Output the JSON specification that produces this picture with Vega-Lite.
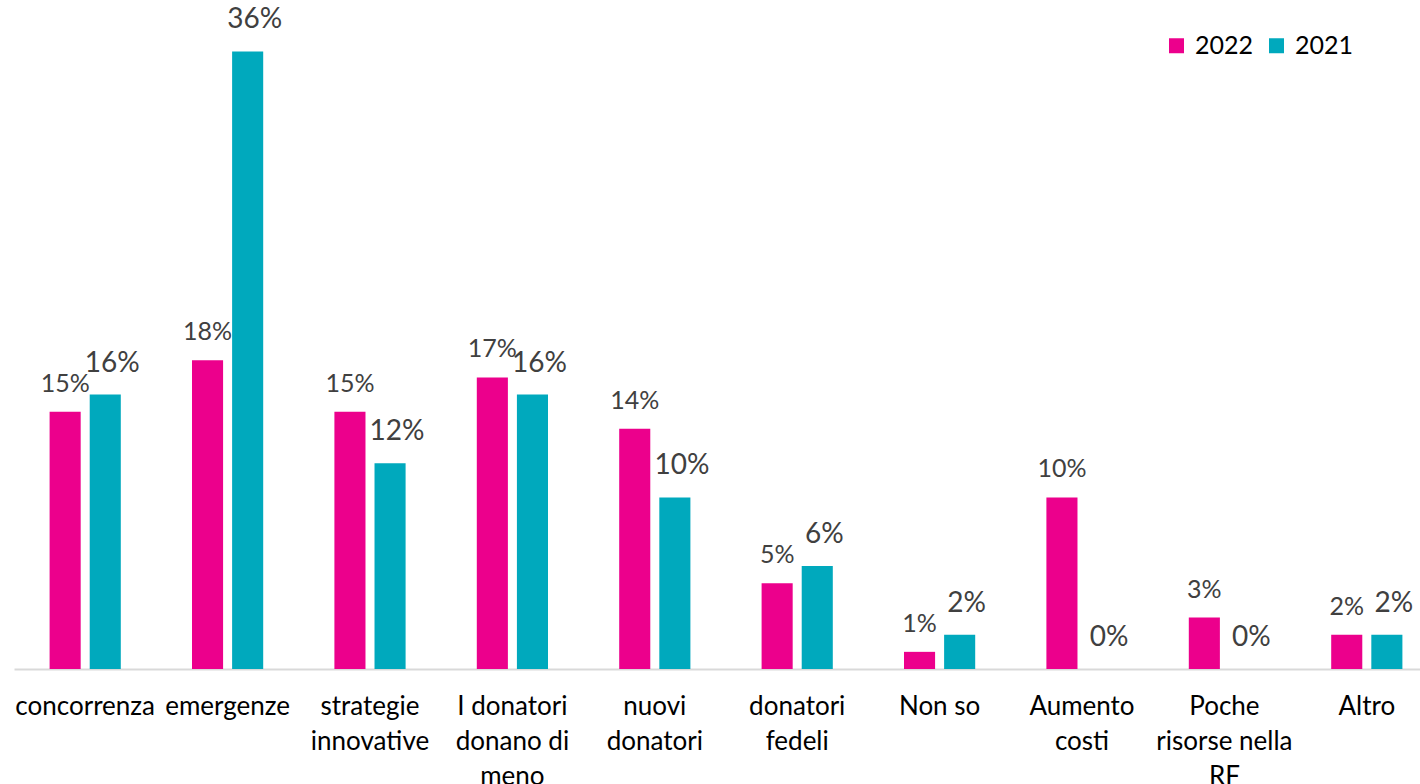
{
  "$schema": "https://vega.github.io/schema/vega-lite/v6.json",
  "width": 1424,
  "height": 669,
  "autosize": {"type": "none"},
  "padding": {"left": 14, "top": 0, "right": 0, "bottom": 115},
  "background": "white",
  "config": {
    "view": {"stroke": null},
    "font": "Lato",
    "axis": {"labelFont": "Lato", "titleFont": "Lato"},
    "legend": {"labelFont": "Lato"}
  },
  "data": {
    "values": [
      {"cat": "concorrenza", "year": "2022", "value": 0.15},
      {"cat": "concorrenza", "year": "2021", "value": 0.16},
      {"cat": "emergenze", "year": "2022", "value": 0.18},
      {"cat": "emergenze", "year": "2021", "value": 0.36},
      {"cat": "strategie\ninnovative", "year": "2022", "value": 0.15},
      {"cat": "strategie\ninnovative", "year": "2021", "value": 0.12},
      {"cat": "I donatori\ndonano di\nmeno", "year": "2022", "value": 0.17},
      {"cat": "I donatori\ndonano di\nmeno", "year": "2021", "value": 0.16},
      {"cat": "nuovi\ndonatori", "year": "2022", "value": 0.14},
      {"cat": "nuovi\ndonatori", "year": "2021", "value": 0.10},
      {"cat": "donatori\nfedeli", "year": "2022", "value": 0.05},
      {"cat": "donatori\nfedeli", "year": "2021", "value": 0.06},
      {"cat": "Non so", "year": "2022", "value": 0.01},
      {"cat": "Non so", "year": "2021", "value": 0.02},
      {"cat": "Aumento\ncosti", "year": "2022", "value": 0.10},
      {"cat": "Aumento\ncosti", "year": "2021", "value": 0.0},
      {"cat": "Poche\nrisorse nella\nRF", "year": "2022", "value": 0.03},
      {"cat": "Poche\nrisorse nella\nRF", "year": "2021", "value": 0.0},
      {"cat": "Altro", "year": "2022", "value": 0.02},
      {"cat": "Altro", "year": "2021", "value": 0.02}
    ]
  },
  "encoding": {
    "x": {
      "field": "cat",
      "type": "nominal",
      "sort": null,
      "title": null,
      "scale": {"paddingInner": 0.5, "paddingOuter": 0.25},
      "axis": {
        "labelAngle": 0,
        "labelExpr": "split(datum.label, '\\n')",
        "labelFontSize": 26,
        "labelColor": "#000000",
        "labelLineHeight": 35,
        "labelPadding": 24,
        "labelBaseline": "top",
        "ticks": false,
        "domainColor": "#D9D9D9",
        "domainWidth": 2,
        "labelLimit": 300
      }
    },
    "xOffset": {"field": "year", "type": "nominal", "sort": ["2022", "2021"], "scale": {"paddingInner": 0.225}},
    "y": {
      "field": "value",
      "type": "quantitative",
      "scale": {"domain": [0, 0.39], "nice": false},
      "axis": null
    }
  },
  "layer": [
    {
      "mark": {"type": "bar"},
      "encoding": {
        "color": {
          "field": "year",
          "type": "nominal",
          "scale": {"domain": ["2022", "2021"], "range": ["#EC008C", "#00A9BD"]},
          "legend": {
            "title": null,
            "orient": "none",
            "legendX": 1150,
            "legendY": 33,
            "direction": "horizontal",
            "symbolType": "square",
            "symbolSize": 225,
            "symbolStrokeWidth": 0,
            "labelFontSize": 25,
            "labelColor": "#000000",
            "columnSpacing": 25,
            "labelOffset": 6
          }
        }
      }
    },
    {
      "transform": [{"filter": "datum.year == '2022'"}],
      "mark": {"type": "text", "fontSize": 25, "color": "#404040", "baseline": "middle", "dy": -28},
      "encoding": {"text": {"field": "value", "type": "quantitative", "format": ".0%"}}
    },
    {
      "transform": [{"filter": "datum.year == '2021'"}],
      "mark": {"type": "text", "fontSize": 28, "color": "#404040", "baseline": "middle", "dy": -31, "dx": 7},
      "encoding": {"text": {"field": "value", "type": "quantitative", "format": ".0%"}}
    }
  ]
}
